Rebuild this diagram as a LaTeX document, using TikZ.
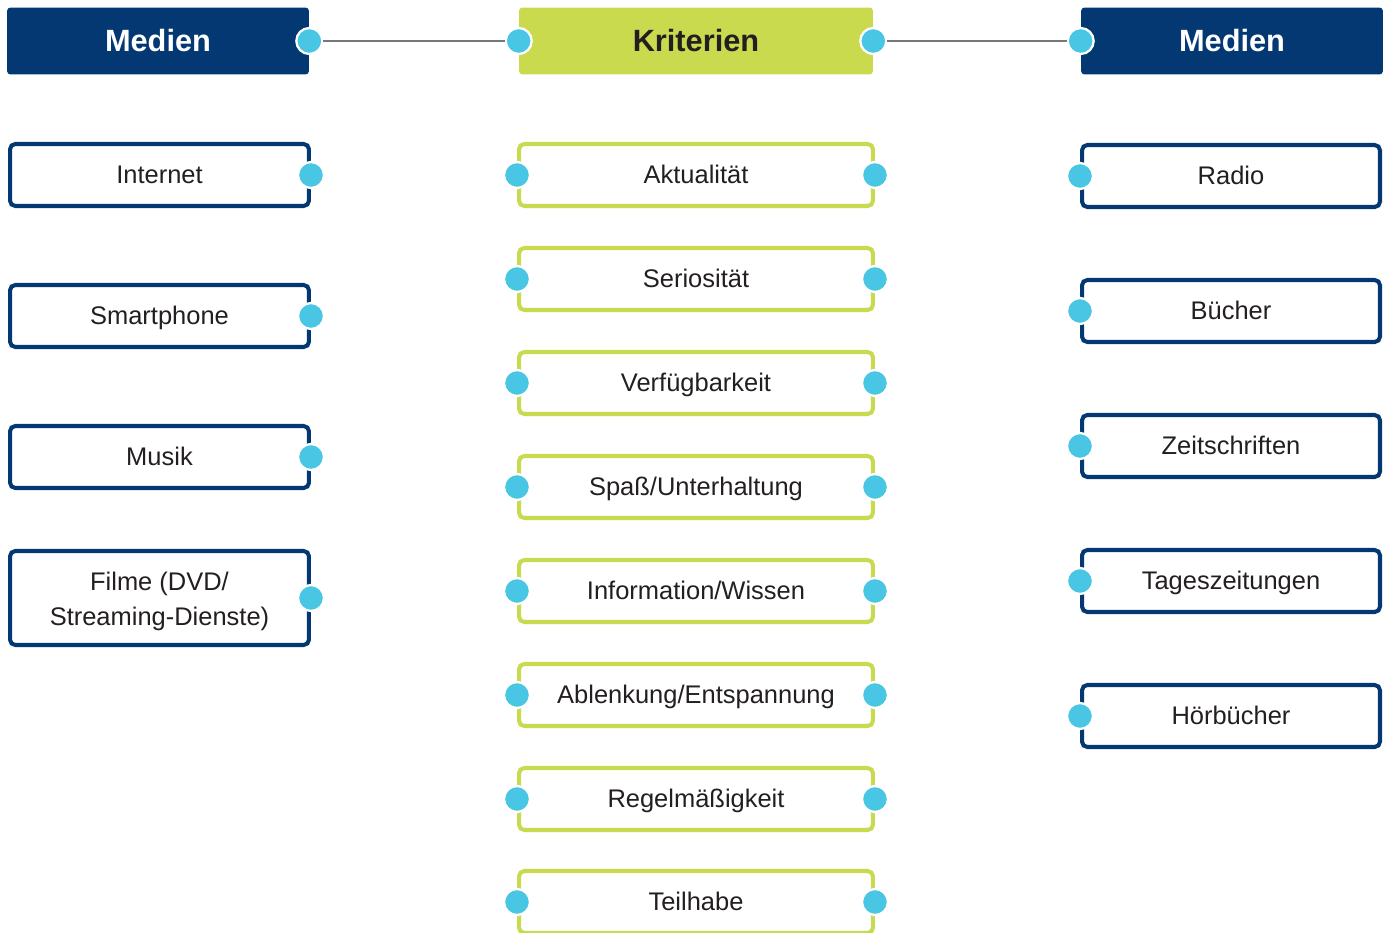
\documentclass[tikz,border=0pt]{standalone}
\usepackage{fontspec}
\setmainfont{Liberation Sans}
\usetikzlibrary{positioning}
\definecolor{navy}{RGB}{3,56,114}
\definecolor{lime}{RGB}{201,218,78}
\definecolor{dotblue}{RGB}{72,198,228}
\definecolor{linegray}{RGB}{120,120,120}
\definecolor{txt}{RGB}{35,31,32}

\begin{document}
\begin{tikzpicture}[x=0.02cm,y=-0.02cm,every text node part/.style={align=center}]
		\tikzstyle{every node}=[font=\fontsize{14.5}{20}\selectfont,text=txt];
		\tikzstyle{head}=[rectangle,rounded corners=2pt,minimum height=1.34cm,text height=12.5pt,text depth=0.5pt,font=\fontsize{17.5}{20}\selectfont\bfseries];
		\tikzstyle{medbox}=[draw=navy,line width=2.3pt,rounded corners=3pt,minimum width=5.98cm,minimum height=1.24cm];
		\tikzstyle{kritbox}=[draw=lime,line width=2.3pt,rounded corners=3pt,minimum width=7.08cm,minimum height=1.24cm,text height=10.5pt,text depth=1pt];
		\tikzstyle{dot}=[circle,fill=dotblue,draw=white,line width=1.3pt,minimum size=0.52cm,inner sep=0pt];
		\useasboundingbox (0,0) rectangle (1387,933);

		% headers
		\node[head,fill=navy,text=white,minimum width=6.04cm] (medL) at (158,41) {Medien};
		\node[head,fill=lime,text=txt,minimum width=7.08cm] (krit) at (696,41) {Kriterien};
		\node[head,fill=navy,text=white,minimum width=6.04cm] (medR) at (1232,41) {Medien};

		% left column
		\node[medbox,text height=10.5pt,text depth=1pt] (internet) at (159.5,175) {Internet};
		\node[medbox,text height=10.5pt,text depth=1pt] (smartphone) at (159.5,316) {Smartphone};
		\node[medbox,text height=10.5pt,text depth=1pt] (musik) at (159.5,457) {Musik};
		\node[medbox,minimum height=1.88cm] (filme) at (159.5,598) {};
		\node (filmeT) at ([yshift=-1.8pt]filme.center) {Filme (DVD/\\Streaming-Dienste)};

		% middle column
		\node[kritbox] (k1) at (696,175) {Aktualität};
		\node[kritbox] (k2) at (696,279) {Seriosität};
		\node[kritbox] (k3) at (696,383) {Verfügbarkeit};
		\node[kritbox] (k4) at (696,487) {Spaß/Unterhaltung};
		\node[kritbox] (k5) at (696,591) {Information/Wissen};
		\node[kritbox] (k6) at (696,695) {Ablenkung/Entspannung};
		\node[kritbox] (k7) at (696,799) {Regelmäßigkeit};
		\node[kritbox] (k8) at (696,902) {Teilhabe};

		% right column
		\tikzset{rbox/.style={medbox,minimum width=5.96cm,text height=10.5pt,text depth=1pt}}
		\node[rbox] (radio) at (1231,176) {Radio};
		\node[rbox] (buecher) at (1231,311) {Bücher};
		\node[rbox] (zeitschr) at (1231,446) {Zeitschriften};
		\node[rbox] (tagesz) at (1231,581) {Tageszeitungen};
		\node[rbox] (hoerb) at (1231,716) {Hörbücher};

		% connector dots
		\node[dot] (medLd) at (medL.east) {};
		\node[dot] (kritLd) at (krit.west) {};
		\node[dot] (kritRd) at (krit.east) {};
		\node[dot] (medRd) at (medR.west) {};
		\draw[linegray,line width=1.3pt] (medLd) -- (kritLd);
		\draw[linegray,line width=1.3pt] (kritRd) -- (medRd);

		\node[dot] at (internet.east) {};
		\node[dot] at (smartphone.east) {};
		\node[dot] at (musik.east) {};
		\node[dot] at (filme.east) {};
		\foreach \k in {k1,k2,k3,k4,k5,k6,k7,k8} {
			\node[dot] at (\k.west) {};
			\node[dot] at (\k.east) {};
		}
		\node[dot] at (radio.west) {};
		\node[dot] at (buecher.west) {};
		\node[dot] at (zeitschr.west) {};
		\node[dot] at (tagesz.west) {};
		\node[dot] at (hoerb.west) {};
	\end{tikzpicture}
\end{document}
